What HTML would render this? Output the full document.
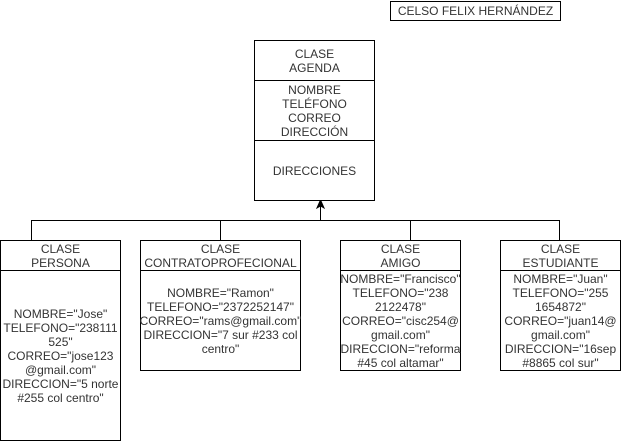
<!DOCTYPE html>
<html><head><style>
body{margin:0;width:622px;height:442px;background:#fff;font-family:"Liberation Sans",sans-serif;font-size:12px;color:#333;position:relative;overflow:hidden}
.b{position:absolute;border:1px solid #000;box-sizing:border-box;background:#fff}
.t{position:absolute;left:0;right:0;text-align:center;line-height:14px;display:flex;align-items:center;justify-content:center;flex-direction:column}
.h{position:absolute;left:0;right:0;border-top:1px solid #000}
</style></head><body>
<svg width="622" height="442" style="position:absolute;left:0;top:0">
<g stroke="#000" fill="none" stroke-width="1">
<path d="M31.5 240V220.5H559.5V240M220.5 220.5V240M410.5 220.5V240M320.5 220.5V206"/>
</g>
<path d="M320.5 200L324 208L320.5 206L317 208Z" fill="#000" stroke="#000"/>
</svg>
<div class="b" style="left:390px;top:1px;width:171px;height:20px"><div class="t" style="top:0;height:18px">CELSO FELIX HERNÁNDEZ</div></div>
<div class="b" style="left:254px;top:40px;width:121px;height:161px">
<div class="t" style="top:0;height:40px">CLASE<br>AGENDA</div><div class="h" style="top:39px"></div>
<div class="t" style="top:40px;height:60px">NOMBRE<br>TELÉFONO<br>CORREO<br>DIRECCIÓN</div><div class="h" style="top:99px"></div>
<div class="t" style="top:100px;height:60px">DIRECCIONES</div></div>
<div class="b" style="left:0;top:240px;width:121px;height:201px">
<div class="t" style="top:0;height:30px">CLASE<br>PERSONA</div><div class="h" style="top:29px"></div>
<div class="t" style="top:30px;height:170px">NOMBRE="Jose"<br>TELEFONO="238111<br>525"<br>CORREO="jose123<br>@gmail.com"<br>DIRECCION="5 norte<br>#255 col centro"</div></div>
<div class="b" style="left:140px;top:240px;width:161px;height:131px">
<div class="t" style="top:0;height:30px">CLASE<br>CONTRATOPROFECIONAL</div><div class="h" style="top:29px"></div>
<div class="t" style="top:30px;height:100px">NOMBRE="Ramon"<br>TELEFONO="2372252147"<br>CORREO="rams@gmail.com"<br>DIRECCION="7 sur #233 col<br>centro"</div></div>
<div class="b" style="left:340px;top:240px;width:121px;height:131px">
<div class="t" style="top:0;height:30px">CLASE<br>AMIGO</div><div class="h" style="top:29px"></div>
<div class="t" style="top:30px;height:100px;white-space:nowrap">NOMBRE="Francisco"<br>TELEFONO="238<br>2122478"<br>CORREO="cisc254@<br>gmail.com"<br>DIRECCION="reforma<br>#45 col altamar"</div></div>
<div class="b" style="left:500px;top:240px;width:121px;height:131px">
<div class="t" style="top:0;height:30px">CLASE<br>ESTUDIANTE</div><div class="h" style="top:29px"></div>
<div class="t" style="top:30px;height:100px">NOMBRE="Juan"<br>TELEFONO="255<br>1654872"<br>CORREO="juan14@<br>gmail.com"<br>DIRECCION="16sep<br>#8865 col sur"</div></div>
</body></html>
